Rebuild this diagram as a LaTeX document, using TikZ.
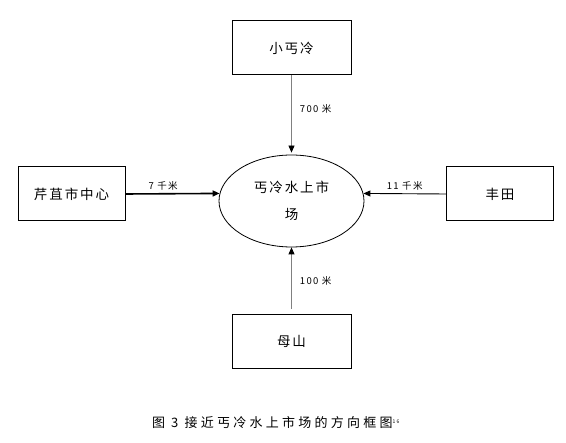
\documentclass[tikz,border=0pt]{standalone}
\usepackage{fontspec}
\setmainfont{Noto Sans CJK SC}
\newfontfamily\cjkwide[LetterSpace=14]{Noto Sans CJK SC}
\newfontfamily\cjkcap[LetterSpace=25]{Noto Sans CJK SC}
\usepackage{tikz}
\usetikzlibrary{arrows.meta}
\usetikzlibrary{positioning, shapes.geometric}
\tikzset{
place/.style = { rectangle, draw = black, fill = white, line width = 1pt, minimum width = 119pt, minimum height = 54pt, inner sep = 0pt, font = \cjkwide\fontsize{13.5}{16}\selectfont },
side place/.style = { place, minimum width = 107pt },
market/.style = { ellipse, draw = black, line width = 0.8pt, minimum width = 145pt, minimum height = 92pt, align = center, font = \cjkwide\fontsize{13.5}{27}\selectfont },
dist/.style = { black, font = \cjkwide\fontsize{9.5}{11}\selectfont, inner sep = 1pt },
}
\begin{document}
\begin{tikzpicture}[x=1pt, y=-1pt]
      \useasboundingbox (0,0) rectangle (566,443);
      \begin{scope}[every node/.style={place}]
        \node (xgl) at (291.5,48) {小丐冷};
        \node[side place] (cqs) at (71.5,194) {芹苴市中心};
        \node[side place] (fd) at (500,194) {丰田};
        \node (ms) at (291.5,341.5) {母山};
      \end{scope}
      \node[market] (gl) at (291.5,201) {丐冷水上市\\场};
      \begin{scope}[>={Triangle[black, length=7pt, width=6pt]},
                    every edge/.style={draw=black}]
        \path [->] (xgl) edge [draw=gray, line width=0.8pt, shorten >=2pt] node [dist, pos=0.42, right, xshift=7pt] {700 米} (gl);
        \path [->] (cqs.east) edge [line width=1.6pt] node [dist, pos=0.4, above, yshift=2pt] {7 千米} (gl.174);
        \path [->] (fd.west) edge [line width=0.9pt] node [dist, pos=0.5, above, yshift=2pt] {11 千米} (gl.6);
        \path [->] (ms) edge [draw=gray, line width=0.8pt, shorten <=5pt] node [dist, pos=0.5, right, xshift=7pt] {100 米} (gl);
      \end{scope}
      \node[font=\cjkcap\fontsize{13}{16}\selectfont] (cap) at (276,423) {图 3 接近丐冷水上市场的方向框图\textsuperscript{\fontsize{5}{6}\selectfont 16}};
    \end{tikzpicture}
\end{document}
